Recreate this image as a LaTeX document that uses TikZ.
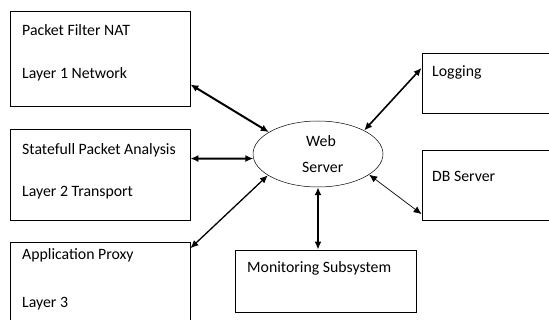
\documentclass[tikz,border=0pt]{standalone}
\usepackage{fontspec}
\setmainfont{Carlito}
\usetikzlibrary{arrows.meta,shapes.geometric}

\tikzset{
  blk/.style={draw,line width=0.8pt,inner sep=0pt},
  lbl/.style={anchor=base west,inner sep=0pt,font=\fontsize{15.8}{19}\selectfont},
  link/.style={draw,{Latex[length=8pt,width=7pt]}-{Latex[length=8pt,width=7pt]}},
}

\begin{document}
\begin{tikzpicture}[x=1pt,y=-1pt]
              \useasboundingbox (0,0) rectangle (549,320);
              %\draw[help lines,step=20] (0,0) grid (549,320);
              \node[blk,minimum width=180pt,minimum height=95pt] (pf) at (100,58.5) {};
              \node[blk,minimum width=180pt,minimum height=91pt] (sp) at (100,174.5) {};
              \node[blk,minimum width=180pt,minimum height=93pt] (ap) at (100,288.5) {};
              \node[blk,minimum width=130pt,minimum height=60pt] (lg) at (487,83) {};
              \node[blk,minimum width=130pt,minimum height=70pt] (db) at (487,185) {};
              \node[blk,minimum width=181pt,minimum height=62pt] (mon) at (325.5,281) {};
              \node[draw,ellipse,line width=0.5pt,inner sep=0pt,minimum width=130pt,minimum height=66pt] (ws) at (318,154) {};
              \node[lbl] (pf1) at (22,36) {Packet Filter NAT};
              \node[lbl] (pf2) at (22,79) {Layer 1 Network};
              \node[lbl] (sp1) at (22,155) {Statefull Packet Analysis};
              \node[lbl] (sp2) at (22,197) {Layer 2 Transport};
              \node[lbl] (ap1) at (22,260) {Application Proxy};
              \node[lbl] (ap2) at (22,308) {Layer 3};
              \node[lbl] (lg1) at (432,77) {Logging};
              \node[lbl] (db1) at (432,182) {DB Server};
              \node[lbl] (mon1) at (247,273) {Monitoring Subsystem};
              \node[lbl] (ws1) at (306,147) {Web};
              \node[lbl] (ws2) at (302,173) {Server};
              \path[link,line width=2pt] (pf.-16) -- (ws.156);
              \path[link,line width=2pt] (sp.10) -- (ws.184);
              \path[link,line width=1.3pt] (ap.24) -- (ws.203);
              \path[link,line width=1.6pt] (lg.167) -- (ws.27);
              \path[link,line width=0.7pt] (db.204) -- (ws.-22);
              \path[link,line width=2pt] (ws.south) -- (ws.south |- mon.north);
            \end{tikzpicture}
\end{document}
